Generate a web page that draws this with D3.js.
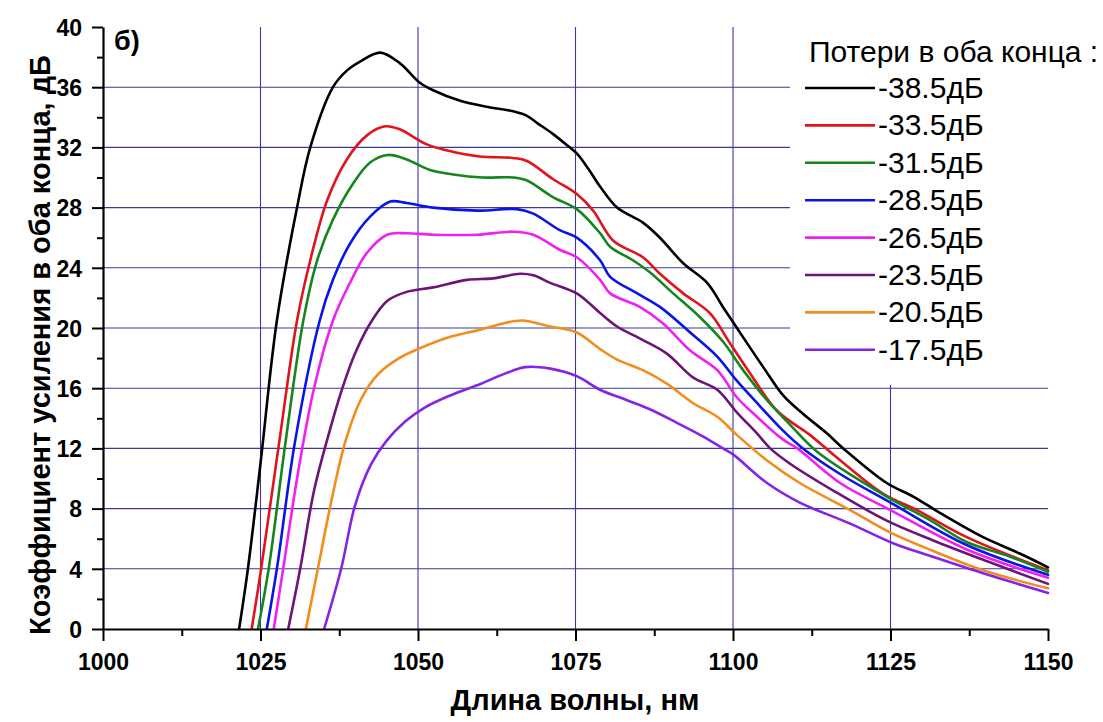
<!DOCTYPE html>
<html><head><meta charset="utf-8">
<script src="https://cdn.jsdelivr.net/npm/d3@7"></script>
<style>
body{margin:0;background:#fff;}
svg{display:block;font-family:"Liberation Sans",Arial,sans-serif;}
</style></head>
<body><svg id="c" width="1103" height="722"></svg>
<script>
// ---- data ----
const xTicks = [1000, 1025, 1050, 1075, 1100, 1125, 1150];
const xMinor = [1012.5, 1037.5, 1062.5, 1087.5, 1112.5, 1137.5];
const yTicks = [0, 4, 8, 12, 16, 20, 24, 28, 32, 36, 40];
const yMinor = [2, 6, 10, 14, 18, 22, 26, 30, 34, 38];
const xGrid = [1025, 1050, 1075, 1100, 1125];
const yGrid = [4, 8, 12, 16, 20, 24, 28, 32, 36];

const seriesNames = ["-38.5дБ", "-33.5дБ", "-31.5дБ", "-28.5дБ", "-26.5дБ", "-23.5дБ", "-20.5дБ", "-17.5дБ"];
const seriesColors = ["#000000", "#e0141a", "#16861c", "#0a14e6", "#f020f0", "#6e1478", "#f28c1e", "#8424e6"];

const wl385 = [1021.6,1023.0,1025.0,1027.6,1030.8,1032.9,1036.5,1038.7,1040.8,1044.0,1047.1,1050.3,1052.4,1056.7,1060.9,1065.1,1067.3,1069.0,1071.4,1073.5,1075.2,1077.0,1078.9,1081.6,1085.7,1088.4,1092.1,1095.9,1098.4,1101.1,1104.8,1108.0,1111.1,1114.9,1117.5,1124.4,1128.6,1132.9,1139.7,1145.6,1150];
const g385  = [0,4,11,20.5,28.0,32.0,36.0,37.1,37.7,38.3,37.6,36.3,35.8,35.1,34.7,34.4,34.1,33.6,32.9,32.2,31.6,30.6,29.4,28.0,27.0,26.0,24.3,23.0,21.4,19.7,17.4,15.5,14.3,13.0,12.0,9.7,8.8,7.7,6.1,5.0,4.1];

const wl335 = [1023.6,1025.1,1028.0,1030.8,1032.9,1035.6,1038.7,1041.9,1044.8,1047.1,1051.4,1055.6,1059.8,1065.1,1067.3,1071.4,1075.2,1077.8,1081.0,1085.7,1088.4,1092.1,1096.3,1099.5,1102.7,1107.0,1112.2,1115.9,1123.8,1129.2,1137.1,1150];
const g335  = [0,4,12.5,20.5,24.5,28.5,31.2,32.8,33.4,33.2,32.2,31.7,31.4,31.3,31.1,29.9,28.9,27.8,25.8,24.7,23.6,22.3,21.0,19.0,17.0,14.5,12.9,11.6,9.0,7.9,6.1,3.9];

const wl315 = [1024.6,1026.3,1029.0,1031.8,1034.0,1036.5,1039.7,1042.4,1045.2,1048.2,1051.9,1055.6,1060.3,1065.1,1067.3,1071.4,1075.2,1078.9,1080.5,1084.1,1086.8,1090.5,1094.8,1098.4,1101.6,1105.4,1109.0,1113.3,1124.4,1131.0,1137.0,1144.0,1150];
const g315  = [0,4,12.5,20.5,24.5,27.2,29.6,31.0,31.5,31.2,30.5,30.2,30.0,30.0,29.8,28.7,27.9,26.3,25.4,24.5,23.7,22.3,20.7,19.1,17.2,15.2,13.6,11.8,8.8,7.3,5.8,4.8,3.8];

const wl285 = [1026.0,1027.6,1030.5,1034.4,1036.5,1039.2,1042.4,1045.6,1048.2,1052.4,1059.4,1065.7,1068.3,1072.5,1075.2,1078.9,1080.5,1084.8,1088.4,1093.2,1097.5,1100.6,1104.3,1107.9,1111.1,1117.0,1125.0,1137.0,1150];
const g285  = [0,4,12.5,20.5,23.2,25.6,27.4,28.4,28.3,28.0,27.8,27.9,27.6,26.5,26.0,24.5,23.4,22.3,21.4,19.7,18.1,16.5,14.8,13.2,12.0,10.3,8.4,5.6,3.6];

const wl265 = [1027.1,1028.6,1031.0,1033.5,1036.5,1039.2,1041.9,1045.1,1048.2,1052.4,1059.4,1065.1,1068.3,1072.5,1075.2,1078.9,1080.5,1085.2,1088.9,1093.2,1097.5,1100.6,1103.8,1107.9,1110.2,1117.0,1125.0,1137.0,1150];
const g265  = [0,4,10.5,16.0,20.5,23.0,25.0,26.2,26.3,26.2,26.2,26.4,26.2,25.2,24.7,23.2,22.3,21.4,20.3,18.5,17.2,15.4,14.1,12.6,12.0,9.7,7.9,5.3,3.4];

const wl235 = [1029.4,1031.3,1033.5,1036.0,1038.0,1040.0,1042.4,1045.1,1048.2,1052.4,1057.8,1061.9,1066.2,1068.3,1071.0,1075.2,1078.9,1081.6,1085.7,1089.5,1093.7,1097.5,1100.6,1103.8,1105.9,1109.0,1115.9,1124.4,1131.7,1139.7,1150];
const g235  = [0,4,9.2,13.2,16.0,18.3,20.3,21.8,22.4,22.7,23.2,23.3,23.6,23.5,23.0,22.3,21.0,20.1,19.2,18.3,16.7,15.9,14.4,13.0,12.0,11.0,9.2,7.2,5.9,4.6,3.0];

const wl205 = [1032.2,1034.1,1036.5,1038.5,1041.0,1043.6,1047.0,1050.0,1055.0,1060.0,1063.5,1066.5,1071.0,1075.2,1078.9,1081.6,1085.7,1089.5,1093.7,1097.5,1100.6,1105.4,1110.6,1118.6,1125.0,1131.7,1139.7,1150];
const g205  = [0,4,9.0,12.5,15.3,16.9,18.0,18.6,19.4,19.9,20.3,20.5,20.1,19.7,18.6,17.9,17.2,16.3,15.0,14.1,12.9,11.2,9.7,7.9,6.4,5.2,3.9,2.7];

const wl175 = [1035.1,1037.8,1040.0,1042.5,1045.0,1048.0,1051.0,1055.0,1060.0,1064.0,1067.0,1071.0,1075.2,1078.9,1083.2,1086.8,1091.1,1095.2,1098.4,1100.0,1105.4,1110.6,1118.6,1125.4,1131.7,1139.7,1150];
const g175  = [0,4,8.2,10.9,12.5,13.8,14.7,15.5,16.3,17.0,17.4,17.3,16.8,15.9,15.2,14.6,13.7,12.8,12.0,11.6,9.7,8.4,7.0,5.7,4.8,3.7,2.4];

const seriesWl = [wl385, wl335, wl315, wl285, wl265, wl235, wl205, wl175];
const seriesG  = [g385, g335, g315, g285, g265, g235, g205, g175];

// ---- layout ----
const svg = d3.select("#c");
const x = d3.scaleLinear().domain([1000, 1150]).range([103, 1048]);
const y = d3.scaleLinear().domain([0, 40]).range([629, 27]);
const gridColor = "#3a3a9c";

// grid
svg.append("g").selectAll("line").data(xGrid).join("line")
  .attr("x1", d => x(d)).attr("x2", d => x(d))
  .attr("y1", y(0)).attr("y2", y(40))
  .attr("stroke", gridColor).attr("stroke-width", 1.1);
svg.append("g").selectAll("line").data(yGrid).join("line")
  .attr("x1", x(1000)).attr("x2", x(1150))
  .attr("y1", d => y(d)).attr("y2", d => y(d))
  .attr("stroke", gridColor).attr("stroke-width", 1.1);

// legend background
svg.append("rect").attr("x", 790).attr("y", 20).attr("width", 313).attr("height", 365).attr("fill", "#fff");

// curves
const line = d3.line().curve(d3.curveCatmullRom.alpha(0.5));
seriesNames.forEach((name, i) => {
  const pts = seriesWl[i].map((w, j) => [x(w), y(seriesG[i][j])]);
  svg.append("path").attr("d", line(pts)).attr("fill", "none")
    .attr("stroke", seriesColors[i]).attr("stroke-width", 2.6)
    .attr("stroke-linejoin", "round").attr("stroke-linecap", "round");
});

// axes
const fontTick = "bold 23px 'Liberation Sans', Arial, sans-serif";
const xAxis = svg.append("g").attr("transform", `translate(0,${y(0)})`)
  .call(d3.axisBottom(x).tickValues(xTicks).tickSize(12).tickSizeOuter(0).tickFormat(d3.format("d")));
xAxis.select(".domain").attr("stroke", "#000").attr("stroke-width", 2.2);
xAxis.selectAll(".tick line").attr("stroke", "#000").attr("stroke-width", 2);
xAxis.selectAll(".tick text").attr("y", 41).attr("dy", 0).style("font", fontTick).attr("fill", "#000");
svg.append("g").attr("transform", `translate(0,${y(0)})`)
  .call(d3.axisBottom(x).tickValues(xMinor).tickSize(7).tickSizeOuter(0).tickFormat(""))
  .call(g => { g.select(".domain").remove(); g.selectAll(".tick line").attr("stroke", "#000").attr("stroke-width", 2); });

const yAxis = svg.append("g").attr("transform", `translate(${x(1000)},0)`)
  .call(d3.axisLeft(y).tickValues(yTicks).tickSize(11).tickSizeOuter(0).tickFormat(d3.format("d")));
yAxis.select(".domain").attr("stroke", "#000").attr("stroke-width", 2.2);
yAxis.selectAll(".tick line").attr("stroke", "#000").attr("stroke-width", 2);
yAxis.selectAll(".tick text").attr("x", -21).attr("dy", "0.36em").style("font", fontTick).attr("fill", "#000");
svg.append("g").attr("transform", `translate(${x(1000)},0)`)
  .call(d3.axisLeft(y).tickValues(yMinor).tickSize(6).tickSizeOuter(0).tickFormat(""))
  .call(g => { g.select(".domain").remove(); g.selectAll(".tick line").attr("stroke", "#000").attr("stroke-width", 2); });

// axis titles
svg.append("text").attr("x", 575).attr("y", 710).attr("text-anchor", "middle")
  .style("font", "bold 29px 'Liberation Sans', Arial, sans-serif").text("Длина волны, нм");
svg.append("text").attr("transform", "translate(50,345) rotate(-90)").attr("text-anchor", "middle")
  .style("font", "bold 29px 'Liberation Sans', Arial, sans-serif").text("Коэффициент усиления в оба конца, дБ");

// panel label
svg.append("text").attr("x", 114).attr("y", 50)
  .style("font", "bold 27px 'Liberation Sans', Arial, sans-serif").text("б)");

// legend
svg.append("text").attr("x", 809).attr("y", 62)
  .style("font", "30px 'Liberation Sans', Arial, sans-serif").text("Потери в оба конца :");
const leg = svg.append("g").selectAll("g").data(seriesNames).join("g")
  .attr("transform", (d, i) => `translate(0,${88 + i * 37.4})`);
leg.append("line").attr("x1", 805).attr("x2", 875).attr("y1", 0).attr("y2", 0)
  .attr("stroke", (d, i) => seriesColors[i]).attr("stroke-width", 2.6);
leg.append("text").attr("x", 878).attr("y", 10)
  .style("font", "30px 'Liberation Sans', Arial, sans-serif").text(d => d);
</script></body></html>
